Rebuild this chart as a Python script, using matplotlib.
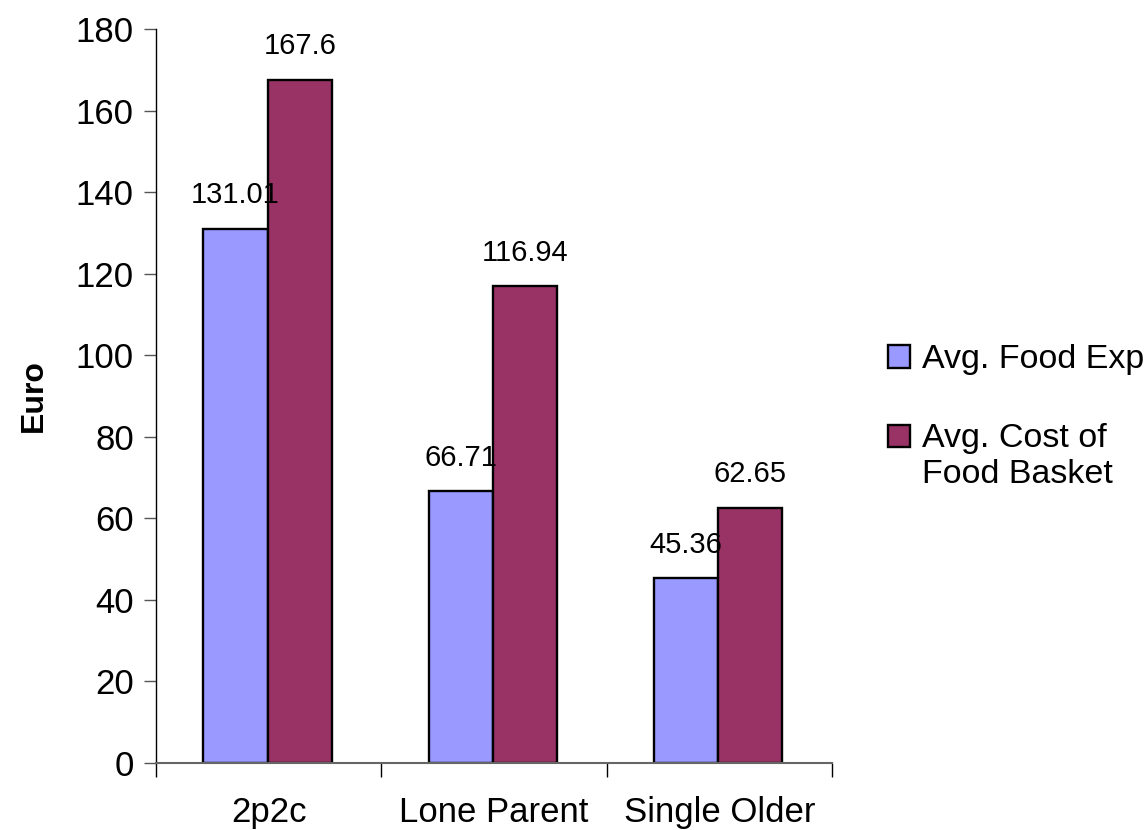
import matplotlib.pyplot as plt
from matplotlib.patches import Rectangle
from matplotlib.legend_handler import HandlerPatch, update_from_first_child
import numpy as np

plt.rcParams['font.family'] = ['Liberation Sans', 'DejaVu Sans']

# household types and weekly food figures (euro)
categories = ['2p2c', 'Lone Parent', 'Single Older']
food_exp = [131.01, 66.71, 45.36]
basket_cost = [167.6, 116.94, 62.65]
series_names = ['Avg. Food Exp', 'Avg. Cost of\nFood Basket']

fig = plt.figure(figsize=(11.44, 8.3), dpi=100)
ax = fig.add_axes([0.1364, 0.0807, 0.5909, 0.8843])

x = np.arange(len(categories))
w = 0.285
b1 = ax.bar(x - w / 2 - 0.005, food_exp, w, color='#9999FF', edgecolor='black', linewidth=1.7, label=series_names[0])
b2 = ax.bar(x + w / 2 - 0.005, basket_cost, w, color='#993366', edgecolor='black', linewidth=1.7, label=series_names[1])

for bars, vals in ((b1, food_exp), (b2, basket_cost)):
    for r, v in zip(bars, vals):
        ax.annotate(('%g' % v), (r.get_x() + r.get_width() / 2, v), xytext=(0, 14),
                    textcoords='offset points', ha='center', va='bottom', fontsize=21)

ax.set_xlim(-0.5, 2.5)
ax.set_ylim(0, 180)
ax.set_yticks(range(0, 181, 20))
ax.tick_params(axis='y', labelsize=25, length=9, width=1, color='#555555', direction='out', pad=7)

ax.set_xticks(x)
ax.set_xticklabels(categories)
ax.tick_params(axis='x', which='major', length=0, labelsize=25, pad=24)
ax.set_xticks([-0.5, 0.5, 1.5, 2.5], minor=True)
ax.tick_params(axis='x', which='minor', length=10, width=1, color='black', direction='out')

ax.spines['top'].set_visible(False)
ax.spines['right'].set_visible(False)
ax.spines['bottom'].set_color('#666666')
ax.spines['bottom'].set_linewidth(1.5)
ax.spines['left'].set_linewidth(1)

ax.set_ylabel('Euro', fontsize=23, fontweight='bold', labelpad=19)


# keep the swatch level with the first line of a two-line label
def top_line_patch(legend, orig_handle, xdescent, ydescent, width, height, fontsize):
    return Rectangle((-xdescent, -ydescent + 0.6 * fontsize), width, height)


fs = 24.5
leg = fig.legend(handles=[b1, b2], loc='upper left', bbox_to_anchor=(0.776, 0.585), frameon=False,
                 fontsize=fs, handlelength=0.65, handleheight=0.65, handletextpad=0.35,
                 labelspacing=1.4, borderpad=0, borderaxespad=0,
                 handler_map={b2: HandlerPatch(patch_func=top_line_patch,
                                               update_func=update_from_first_child)})

plt.savefig('out.png', dpi=100)
